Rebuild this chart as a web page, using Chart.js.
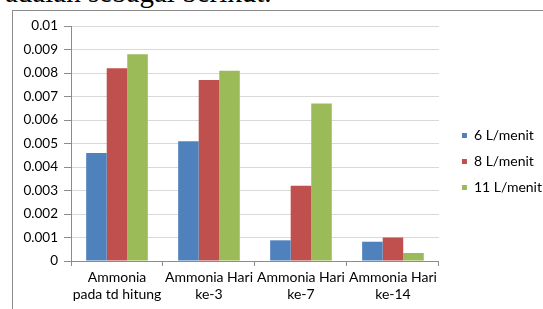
<!DOCTYPE html>
<html>
<head>
<meta charset="utf-8">
<script src="https://cdn.jsdelivr.net/npm/chart.js@4.4.0/dist/chart.umd.min.js"></script>
<style>
  html, body { margin: 0; padding: 0; background: #fff; }
  #wrap { position: relative; width: 543px; height: 309px; overflow: hidden; }
  #intro { position: absolute; left: 5px; top: -24px; font-family: "Liberation Serif", serif; font-size: 29px; color: #000; white-space: nowrap; }
  #frame { position: absolute; left: 12px; top: 10px; right: 0; bottom: 0; border-top: 1px solid #8c8c8c; border-left: 1px solid #8c8c8c; }
  #chartBox { position: absolute; left: 0; top: 0; width: 543px; height: 309px; }
</style>
</head>
<body>
<div id="wrap">
  <div id="intro">adalah sebagai berikut.</div>
  <div id="frame"></div>
  <div id="chartBox"><canvas id="myChart" width="543" height="309"></canvas></div>
</div>
<script>
// data
var categories = [["Ammonia", "pada td hitung"], ["Ammonia Hari", "ke-3"], ["Ammonia Hari", "ke-7"], ["Ammonia Hari", "ke-14"]];
var seriesNames = ["6 L/menit", "8 L/menit", "11 L/menit"];
var flow6 = [0.0046, 0.0051, 0.00088, 0.00082];
var flow8 = [0.0082, 0.0077, 0.0032, 0.001];
var flow11 = [0.0088, 0.0081, 0.0067, 0.00034];
var yTickLabels = ["0", "0.001", "0.002", "0.003", "0.004", "0.005", "0.006", "0.007", "0.008", "0.009", "0.01"];

var barColors = ["#4F81BD", "#C0504D", "#9BBB59"];
var font = { family: "Lato, 'Open Sans', sans-serif", size: 14 };

// nudge the legend so it sits like the original (a bit right of the plot, a bit higher)
var legendNudge = {
    id: "legendNudge",
    afterLayout: function (chart) {
        var lg = chart.legend;
        lg.left = chart.chartArea.right + 11;
        lg.right = chart.width;
        lg.top -= 6; lg.bottom -= 6;
    }
};

new Chart("myChart", {
    type: "bar",
    data: {
        labels: categories,
        datasets: [
            { label: seriesNames[0], data: flow6, backgroundColor: barColors[0] },
            { label: seriesNames[1], data: flow8, backgroundColor: barColors[1] },
            { label: seriesNames[2], data: flow11, backgroundColor: barColors[2] }
        ]
    },
    options: {
        responsive: false,
        animation: false,
        devicePixelRatio: 1,
        categoryPercentage: 0.67,
        barPercentage: 1,
        layout: { padding: { left: 12, top: 26, right: 2, bottom: 0 } },
        plugins: {
            tooltip: { enabled: false },
            legend: {
                position: "right",
                labels: {
                    boxWidth: 5,
                    boxHeight: 5,
                    padding: 12,
                    color: "#000",
                    font: { family: font.family, size: 14 }
                }
            }
        },
        scales: {
            x: {
                grid: { display: true, drawOnChartArea: false, offset: true, tickLength: 5, color: "#8c8c8c" },
                border: { color: "#8c8c8c" },
                ticks: { color: "#000", font: font, maxRotation: 0, autoSkip: false, padding: 3 },
                afterFit: function (scale) { scale.height = 48; }
            },
            y: {
                min: 0,
                max: 0.01,
                grid: { color: "#d9d9d9", tickLength: 7, tickColor: "#8c8c8c" },
                border: { color: "#8c8c8c" },
                ticks: {
                    stepSize: 0.001,
                    autoSkip: false,
                    color: "#000",
                    font: { family: font.family, size: 13.5 },
                    padding: 6,
                    callback: function (v, i) { return yTickLabels[i]; }
                },
                afterFit: function (scale) { scale.width = 59; }
            }
        }
    },
    plugins: [legendNudge]
});
</script>
</body>
</html>
